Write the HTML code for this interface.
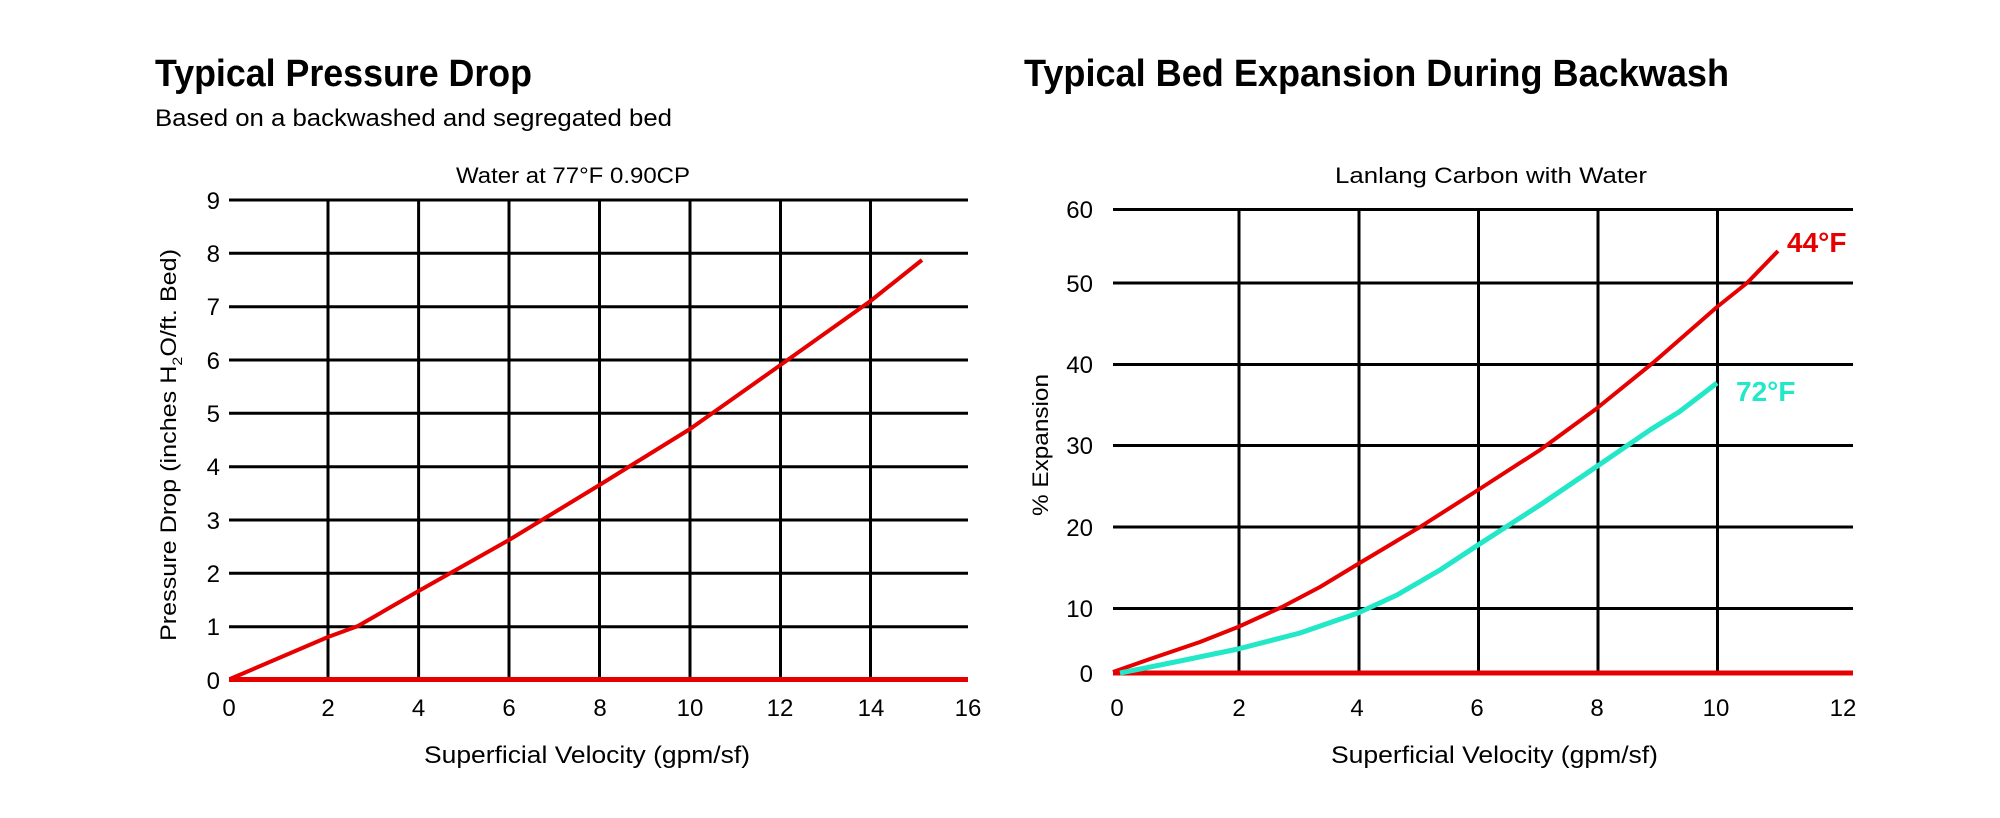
<!DOCTYPE html>
<html><head><meta charset="utf-8"><style>html,body{margin:0;padding:0;background:#fff}svg{display:block}</style></head>
<body>
<svg width="2000" height="818" viewBox="0 0 2000 818" xmlns="http://www.w3.org/2000/svg" font-family="Liberation Sans, sans-serif" fill="#000">
<!-- Left chart -->
<text x="155" y="86" font-size="38" font-weight="bold" textLength="377" lengthAdjust="spacingAndGlyphs">Typical Pressure Drop</text>
<text x="155" y="126" font-size="24" textLength="517" lengthAdjust="spacingAndGlyphs">Based on a backwashed and segregated bed</text>
<text x="456" y="183" font-size="22" textLength="234" lengthAdjust="spacingAndGlyphs">Water at 77°F 0.90CP</text>
<g stroke="#000" stroke-width="3">
<line x1="229" y1="200" x2="968" y2="200"/><line x1="229" y1="253.3" x2="968" y2="253.3"/><line x1="229" y1="306.7" x2="968" y2="306.7"/><line x1="229" y1="360" x2="968" y2="360"/><line x1="229" y1="413.3" x2="968" y2="413.3"/><line x1="229" y1="466.7" x2="968" y2="466.7"/><line x1="229" y1="520" x2="968" y2="520"/><line x1="229" y1="573.3" x2="968" y2="573.3"/><line x1="229" y1="626.7" x2="968" y2="626.7"/>
<line x1="328" y1="200" x2="328" y2="680"/><line x1="418.6" y1="200" x2="418.6" y2="680"/><line x1="509" y1="200" x2="509" y2="680"/><line x1="599.5" y1="200" x2="599.5" y2="680"/><line x1="690" y1="200" x2="690" y2="680"/><line x1="780.5" y1="200" x2="780.5" y2="680"/><line x1="870.5" y1="200" x2="870.5" y2="680"/>
</g>
<line x1="229" y1="679.5" x2="968" y2="679.5" stroke="#e60000" stroke-width="5"/>
<polyline fill="none" stroke="#e60000" stroke-width="4" stroke-linejoin="round" points="230,679 328,637 358,626 418.6,591 509,540 599.5,485 690,429 780.5,365 870.5,301 922,260"/>
<g font-size="24" text-anchor="end">
<text x="220" y="209">9</text><text x="220" y="262">8</text><text x="220" y="315">7</text><text x="220" y="369">6</text><text x="220" y="422">5</text><text x="220" y="475">4</text><text x="220" y="529">3</text><text x="220" y="582">2</text><text x="220" y="635">1</text><text x="220" y="689">0</text>
</g>
<g font-size="24" text-anchor="middle">
<text x="229" y="716">0</text><text x="328" y="716">2</text><text x="418.6" y="716">4</text><text x="509" y="716">6</text><text x="600" y="716">8</text><text x="690" y="716">10</text><text x="780" y="716">12</text><text x="871" y="716">14</text><text x="968" y="716">16</text>
</g>
<text x="424" y="763" font-size="24" textLength="326" lengthAdjust="spacingAndGlyphs">Superficial Velocity (gpm/sf)</text>
<text transform="translate(176,641) rotate(-90)" font-size="22" textLength="392" lengthAdjust="spacingAndGlyphs">Pressure Drop (inches H<tspan font-size="14" dy="6">2</tspan><tspan dy="-6">O/ft. Bed)</tspan></text>

<!-- Right chart -->
<text x="1024" y="86" font-size="38" font-weight="bold" textLength="705" lengthAdjust="spacingAndGlyphs">Typical Bed Expansion During Backwash</text>
<text x="1335" y="183" font-size="22" textLength="312" lengthAdjust="spacingAndGlyphs">Lanlang Carbon with Water</text>
<g stroke="#000" stroke-width="3">
<line x1="1113" y1="209.5" x2="1853" y2="209.5"/><line x1="1113" y1="283" x2="1853" y2="283"/><line x1="1113" y1="364.5" x2="1853" y2="364.5"/><line x1="1113" y1="445.5" x2="1853" y2="445.5"/><line x1="1113" y1="527" x2="1853" y2="527"/><line x1="1113" y1="608.5" x2="1853" y2="608.5"/>
<line x1="1239" y1="209" x2="1239" y2="673"/><line x1="1359" y1="209" x2="1359" y2="673"/><line x1="1478.5" y1="209" x2="1478.5" y2="673"/><line x1="1598" y1="209" x2="1598" y2="673"/><line x1="1717.5" y1="209" x2="1717.5" y2="673"/>
</g>
<line x1="1113" y1="673" x2="1853" y2="673" stroke="#e60000" stroke-width="5"/>
<polyline fill="none" stroke="#e60000" stroke-width="4" stroke-linejoin="round" points="1113,672 1150,659 1200,642 1238,627 1282,607 1320,587 1358,564 1420,527 1478,490 1540,450 1596,409 1654,362 1717,307 1747,283 1778,251"/>
<polyline fill="none" stroke="#22e8c8" stroke-width="5" stroke-linejoin="round" points="1120,673 1180,661 1238,649 1300,633 1358,613 1397,595 1440,570 1478,545 1540,505 1596,467 1650,430 1679,412 1700,396 1717,383"/>
<text x="1787" y="252" font-size="28" font-weight="bold" fill="#e60000">44°F</text>
<text x="1736" y="401" font-size="28" font-weight="bold" fill="#22e8c8">72°F</text>
<g font-size="24" text-anchor="end">
<text x="1093" y="218">60</text><text x="1093" y="292">50</text><text x="1093" y="373">40</text><text x="1093" y="454">30</text><text x="1093" y="536">20</text><text x="1093" y="617">10</text><text x="1093" y="682">0</text>
</g>
<g font-size="24" text-anchor="middle">
<text x="1117" y="716">0</text><text x="1239" y="716">2</text><text x="1357" y="716">4</text><text x="1477" y="716">6</text><text x="1597" y="716">8</text><text x="1716" y="716">10</text><text x="1843" y="716">12</text>
</g>
<text x="1331" y="763" font-size="24" textLength="327" lengthAdjust="spacingAndGlyphs">Superficial Velocity (gpm/sf)</text>
<text transform="translate(1048,516) rotate(-90)" font-size="22" textLength="142" lengthAdjust="spacingAndGlyphs">% Expansion</text>
</svg>
</body></html>
